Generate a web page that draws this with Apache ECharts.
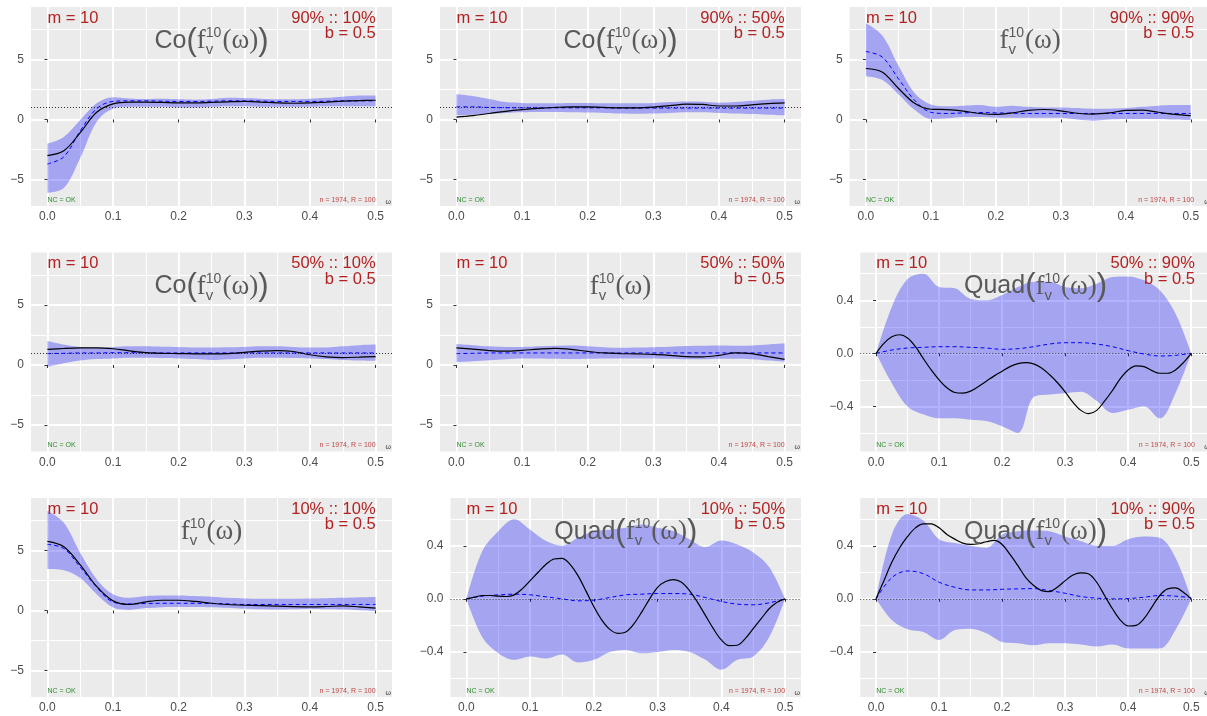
<!DOCTYPE html>
<html><head><meta charset="utf-8">
<script src="https://cdn.jsdelivr.net/npm/echarts@6/dist/echarts.min.js"></script>
<style>html,body{margin:0;padding:0;background:#fff}#c{width:1207px;height:716px}</style>
</head><body><div id="c"></div>
<script>
// ---------- data ----------
const X21 = [0,0.025,0.05,0.075,0.1,0.125,0.15,0.175,0.2,0.225,0.25,0.275,0.3,0.325,0.35,0.375,0.4,0.425,0.45,0.475,0.5];
const X41 = [0,0.0125,0.025,0.0375,0.05,0.0625,0.075,0.0875,0.1,0.1125,0.125,0.1375,0.15,0.1625,0.175,0.1875,0.2,0.2125,0.225,0.2375,0.25,0.2625,0.275,0.2875,0.3,0.3125,0.325,0.3375,0.35,0.3625,0.375,0.3875,0.4,0.4125,0.425,0.4375,0.45,0.4625,0.475,0.4875,0.5];

const xTickVals = [0,0.1,0.2,0.3,0.4,0.5];
const xMinorVals = [0.05,0.15,0.25,0.35,0.45];
const yTickLevel = [-5,0,5];
const yMinorLevel = [-2.5,2.5,7.5];
const yTickQuad = [-0.4,0,0.4];
const yMinorQuad = [-0.6,-0.2,0.2,0.6];

const panelKinds = ['Co','Co','f','Co','f','Quad','f','Quad','Quad'];
const panelLabels = ['90% :: 10%','90% :: 50%','90% :: 90%','50% :: 10%','50% :: 50%','50% :: 90%','10% :: 10%','10% :: 50%','10% :: 90%'];
const refLines = [1,1,null,1,null,0,null,0,0];

const p1Black = [-3.0,-2.6,-1.1,0.6,1.3,1.45,1.45,1.42,1.38,1.38,1.42,1.47,1.5,1.45,1.38,1.35,1.38,1.45,1.52,1.57,1.6];
const p1Blue  = [-3.7,-3.1,-0.95,0.9,1.5,1.55,1.55,1.52,1.5,1.5,1.52,1.55,1.55,1.53,1.5,1.5,1.5,1.52,1.55,1.55,1.55];
const p1Upper = [-2.0,-1.45,-0.05,1.35,1.85,1.75,1.7,1.72,1.68,1.65,1.7,1.8,1.78,1.72,1.68,1.68,1.72,1.8,1.9,2.0,2.0];
const p1Lower = [-6.1,-5.7,-3.2,-0.2,0.9,1.05,1.05,1.05,1.0,1.0,1.05,1.1,1.1,1.05,1.05,1.05,1.05,1.1,1.1,1.1,1.1];

const p2Black = [0.2,0.32,0.5,0.68,0.82,0.93,1.0,1.05,1.05,1.0,0.97,0.97,1.03,1.15,1.27,1.25,1.12,1.12,1.22,1.32,1.38];
const p2Blue  = [1.05,1.05,1.0,0.98,0.97,0.97,0.97,0.97,0.97,0.97,0.95,0.95,0.95,0.95,0.95,0.95,0.95,0.95,0.95,0.95,0.95];
const p2Upper = [2.1,1.95,1.7,1.45,1.38,1.35,1.35,1.38,1.38,1.35,1.35,1.35,1.38,1.45,1.5,1.48,1.4,1.45,1.55,1.65,1.7];
const p2Lower = [0.35,0.4,0.48,0.55,0.6,0.62,0.62,0.6,0.58,0.55,0.5,0.48,0.5,0.55,0.6,0.6,0.55,0.5,0.45,0.4,0.35];

const p3Black = [4.24,3.95,2.6,1.35,0.85,0.82,0.7,0.5,0.42,0.55,0.75,0.83,0.72,0.52,0.45,0.55,0.75,0.78,0.6,0.42,0.32];
const p3Blue  = [5.65,5.2,3.4,1.6,0.6,0.5,0.55,0.58,0.55,0.52,0.5,0.5,0.5,0.5,0.5,0.5,0.5,0.5,0.5,0.5,0.5];
const p3Upper = [8.0,7.0,4.5,2.2,1.25,1.1,1.15,1.2,1.05,1.15,1.05,1.0,1.0,0.95,0.9,0.9,0.95,1.05,1.15,1.2,1.2];
const p3Lower = [3.6,3.3,2.1,0.8,0.05,0.1,0.2,0.2,0.15,0.15,0.15,0.15,0.15,0.0,-0.1,0.0,0.05,0.05,0.05,0.0,-0.05];

const p4Black = [1.3,1.37,1.42,1.43,1.35,1.18,1.03,0.97,0.95,0.93,0.92,0.95,1.05,1.15,1.2,1.12,0.85,0.68,0.62,0.65,0.7];
const p4Blue  = [0.95,0.97,1.0,1.0,1.02,1.02,1.02,1.0,1.0,1.0,1.0,1.0,1.0,1.0,1.0,1.0,1.0,1.0,1.0,1.0,1.0];
const p4Upper = [2.0,1.7,1.5,1.45,1.5,1.55,1.55,1.52,1.5,1.45,1.45,1.48,1.5,1.55,1.55,1.5,1.45,1.45,1.55,1.65,1.7];
const p4Lower = [-0.15,0.15,0.38,0.5,0.55,0.6,0.6,0.58,0.55,0.5,0.42,0.48,0.55,0.6,0.6,0.58,0.55,0.5,0.42,0.38,0.35];

const p5Black = [1.43,1.32,1.2,1.15,1.22,1.32,1.38,1.3,1.13,1.0,0.95,0.92,0.88,0.8,0.7,0.68,0.8,1.0,0.95,0.7,0.47];
const p5Blue  = [0.95,0.97,1.0,1.0,1.0,1.0,1.0,1.0,1.0,1.0,1.0,1.0,1.0,1.0,1.0,1.0,1.0,1.0,1.0,1.0,1.0];
const p5Upper = [1.75,1.65,1.55,1.5,1.5,1.55,1.6,1.62,1.55,1.48,1.43,1.45,1.48,1.52,1.58,1.6,1.62,1.6,1.62,1.7,1.8];
const p5Lower = [0.25,0.32,0.4,0.48,0.55,0.55,0.52,0.5,0.52,0.55,0.55,0.55,0.55,0.52,0.48,0.48,0.52,0.52,0.48,0.38,0.28];

const p6Black = [0,0.075,0.125,0.14,0.115,0.05,-0.04,-0.125,-0.2,-0.26,-0.295,-0.3,-0.285,-0.25,-0.21,-0.17,-0.135,-0.1,-0.078,-0.07,-0.08,-0.11,-0.16,-0.22,-0.29,-0.37,-0.43,-0.455,-0.43,-0.36,-0.28,-0.19,-0.125,-0.095,-0.1,-0.13,-0.15,-0.15,-0.125,-0.07,0];
const p6Blue  = [0,0.025,0.04,0.045,0.05,0.05,0.045,0.04,0.03,0.035,0.05,0.07,0.08,0.08,0.07,0.05,0.02,-0.005,-0.02,-0.015,0];
const p6Upper = [0,0.35,0.56,0.6,0.5,0.49,0.41,0.4,0.44,0.5,0.54,0.54,0.5,0.49,0.525,0.575,0.58,0.55,0.475,0.3,0];
const p6Lower = [0,-0.225,-0.4,-0.46,-0.49,-0.49,-0.5,-0.51,-0.55,-0.6,-0.33,-0.31,-0.3,-0.29,-0.36,-0.45,-0.425,-0.4,-0.49,-0.3,0];

const p7Black = [5.75,5.3,3.8,2.0,0.8,0.5,0.72,0.85,0.85,0.75,0.6,0.5,0.44,0.4,0.36,0.32,0.3,0.33,0.38,0.3,0.2];
const p7Blue  = [5.5,5.15,3.6,1.95,0.7,0.55,0.58,0.6,0.6,0.6,0.58,0.55,0.5,0.5,0.5,0.5,0.5,0.5,0.5,0.5,0.5];
const p7Upper = [8.3,7.3,4.8,2.6,1.35,1.05,1.2,1.25,1.25,1.2,1.15,1.05,1.0,0.98,0.98,0.98,1.0,1.02,1.05,1.1,1.13];
const p7Lower = [3.45,3.35,2.7,1.35,0.25,0.05,0.2,0.28,0.3,0.3,0.28,0.22,0.15,0.1,0.08,0.1,0.12,0.1,0.08,0.02,-0.05];

const p8Black = [0,0.0125,0.025,0.025,0.02,0.0175,0.03,0.075,0.137,0.2,0.26,0.3,0.305,0.26,0.175,0.06,-0.06,-0.16,-0.23,-0.26,-0.25,-0.19,-0.1,0,0.087,0.13,0.145,0.125,0.062,-0.025,-0.125,-0.225,-0.31,-0.353,-0.35,-0.3,-0.225,-0.15,-0.075,-0.025,0];
const p8Blue  = [0,0.02,0.03,0.035,0.03,0.015,0.0,-0.015,-0.01,0.01,0.03,0.035,0.04,0.04,0.035,0.01,-0.02,-0.04,-0.045,-0.03,0];
const p8Upper = [0,0.36,0.51,0.6,0.52,0.435,0.4,0.46,0.51,0.52,0.535,0.56,0.535,0.51,0.45,0.39,0.44,0.41,0.35,0.24,0];
const p8Lower = [0,-0.29,-0.41,-0.46,-0.435,-0.45,-0.42,-0.48,-0.46,-0.4,-0.385,-0.41,-0.4,-0.385,-0.4,-0.46,-0.535,-0.46,-0.435,-0.29,0];

const p9Black = [0,0.137,0.275,0.385,0.47,0.535,0.565,0.565,0.535,0.485,0.45,0.42,0.41,0.415,0.43,0.44,0.41,0.335,0.25,0.16,0.1,0.062,0.055,0.087,0.137,0.18,0.195,0.187,0.125,0.025,-0.075,-0.16,-0.205,-0.2,-0.15,-0.062,0.025,0.075,0.082,0.05,0];
const p9Blue  = [0,0.16,0.21,0.19,0.125,0.087,0.067,0.067,0.072,0.075,0.077,0.062,0.042,0.017,0.005,0,0.002,0.012,0.025,0.02,0.008];
const p9Upper = [0,0.485,0.64,0.59,0.45,0.42,0.4,0.385,0.485,0.51,0.515,0.51,0.47,0.435,0.4,0.4,0.45,0.47,0.46,0.31,0];
const p9Lower = [0,-0.16,-0.23,-0.25,-0.31,-0.235,-0.225,-0.26,-0.325,-0.335,-0.35,-0.335,-0.335,-0.345,-0.36,-0.345,-0.375,-0.375,-0.375,-0.235,0];

const panelData = [
  {black:p1Black, blue:p1Blue, upper:p1Upper, lower:p1Lower},
  {black:p2Black, blue:p2Blue, upper:p2Upper, lower:p2Lower},
  {black:p3Black, blue:p3Blue, upper:p3Upper, lower:p3Lower},
  {black:p4Black, blue:p4Blue, upper:p4Upper, lower:p4Lower},
  {black:p5Black, blue:p5Blue, upper:p5Upper, lower:p5Lower},
  {black:p6Black, blue:p6Blue, upper:p6Upper, lower:p6Lower},
  {black:p7Black, blue:p7Blue, upper:p7Upper, lower:p7Lower},
  {black:p8Black, blue:p8Blue, upper:p8Upper, lower:p8Lower},
  {black:p9Black, blue:p9Blue, upper:p9Upper, lower:p9Lower}
];

// ---------- layout ----------
const SANS = '"Liberation Sans", Arial, Helvetica, sans-serif';
const SERIF = '"Liberation Serif", "Times New Roman", serif';
const rowTop = [7, 252.5, 498];
const PH = 199;
const colLeftLevel = [31, 440, 849.6];
const colLeftQuad = [41, 450.5, 860.3];
const WLevel = 361, WQuad = 350.5;
const XMIN = -0.025, XMAX = 0.525;

function zip(xs, ys){ return ys.map((y,i)=>[xs[i], y]); }
// y first, x second: lets the stack run along the y dimension
function zipYX(xs, ys){ return ys.map((y,i)=>[y, xs[i]]); }

const grids = [], xAxes = [], yAxes = [], series = [], graphics = [];

for (let i = 0; i < 9; i++) {
  const r = Math.floor(i/3), c = i % 3;
  const quad = panelKinds[i] === 'Quad';
  const left = quad ? colLeftQuad[c] : colLeftLevel[c];
  const W = quad ? WQuad : WLevel;
  const top = rowTop[r];
  grids.push({left: left, top: top, width: W, height: PH, show: true, backgroundColor: '#EBEBEB', borderWidth: 0, containLabel: false});

  const yMin = quad ? -0.74 : -7.19, yMax = quad ? 0.76 : 9.35;
  const yT = quad ? yTickQuad : yTickLevel, yM = quad ? yMinorQuad : yMinorLevel;

  xAxes.push({gridIndex: i, type: 'value', min: XMIN, max: XMAX, position: 'bottom',
    axisLine: {show: false},
    axisTick: {show: true, length: 3, lineStyle: {color: '#333333', width: 1}, customValues: xTickVals},
    axisLabel: {customValues: xTickVals, formatter: v => Math.abs(v).toFixed(1), color: '#4D4D4D', fontSize: 12, fontFamily: SANS, margin: 5},
    splitLine: {show: true, lineStyle: {color: '#FFFFFF', width: 2}}});
  xAxes.push({gridIndex: i, type: 'value', min: XMIN, max: XMAX, position: 'top',
    axisLine: {show: false},
    axisTick: {show: false, customValues: xMinorVals},
    axisLabel: {show: false, customValues: xMinorVals},
    splitLine: {show: true, lineStyle: {color: '#FFFFFF', width: 1}}});
  yAxes.push({gridIndex: i, type: 'value', min: yMin, max: yMax, position: 'left',
    axisLine: {show: false},
    axisTick: {show: true, length: 3, lineStyle: {color: '#333333', width: 1}, customValues: yT},
    axisLabel: {customValues: yT, formatter: v => quad ? ((v < 0 ? '\u2212' : '') + Math.abs(v).toFixed(1)) : ((v < 0 ? '\u2212' : '') + Math.abs(v)), color: '#4D4D4D', fontSize: 12, fontFamily: SANS, margin: 7},
    splitLine: {show: true, lineStyle: {color: '#FFFFFF', width: 2}}});
  yAxes.push({gridIndex: i, type: 'value', min: yMin, max: yMax, position: 'right',
    axisLine: {show: false},
    axisTick: {show: false, customValues: yM},
    axisLabel: {show: false, customValues: yM},
    splitLine: {show: true, lineStyle: {color: '#FFFFFF', width: 1}}});

  const d = panelData[i];
  const xi = 2*i, yi = 2*i;
  const diff = d.upper.map((u,k)=> +(u - d.lower[k]).toFixed(4));
  series.push({type: 'line', xAxisIndex: xi, yAxisIndex: yi, data: zipYX(X21, d.lower), encode: {x: 1, y: 0},
    stack: 'band' + i, stackStrategy: 'all',
    symbol: 'none', smooth: 0.35, lineStyle: {opacity: 0, width: 0}, silent: true, z: 2});
  series.push({type: 'line', xAxisIndex: xi, yAxisIndex: yi, data: zipYX(X21, diff), encode: {x: 1, y: 0},
    stack: 'band' + i, stackStrategy: 'all',
    symbol: 'none', smooth: 0.35, lineStyle: {opacity: 0, width: 0}, areaStyle: {color: 'rgba(0,0,255,0.3)', opacity: 1}, silent: true, z: 2});
  const blueSeries = {type: 'line', xAxisIndex: xi, yAxisIndex: yi, data: zip(X21, d.blue),
    symbol: 'none', smooth: 0.35, lineStyle: {color: '#0000FF', width: 1, type: [4, 3]}, silent: true, z: 4};
  if (refLines[i] !== null) {
    blueSeries.markLine = {silent: true, symbol: 'none', label: {show: false}, animation: false,
      lineStyle: {type: [1, 2], color: '#333333', width: 1}, data: [{yAxis: refLines[i]}], z: 3};
  }
  series.push(blueSeries);
  series.push({type: 'line', xAxisIndex: xi, yAxisIndex: yi, data: zip(d.black.length === 41 ? X41 : X21, d.black),
    symbol: 'none', smooth: 0.35, lineStyle: {color: '#000000', width: 1.2}, silent: true, z: 5});

  // annotations
  const px0 = left + W * (0 - XMIN) / (XMAX - XMIN);
  const px1 = left + W * (0.5 - XMIN) / (XMAX - XMIN);
  const cx = left + W / 2;
  const red = '#B22222';
  graphics.push({type: 'text', z: 100, x: px0, y: top + 11, style: {text: 'm = 10', fontSize: 16.5, fontFamily: SANS, fill: red, align: 'left', verticalAlign: 'middle'}});
  graphics.push({type: 'text', z: 100, x: px1, y: top + 11, style: {text: panelLabels[i], fontSize: 16.5, fontFamily: SANS, fill: red, align: 'right', verticalAlign: 'middle'}});
  graphics.push({type: 'text', z: 100, x: px1, y: top + 26.5, style: {text: 'b = 0.5', fontSize: 16.5, fontFamily: SANS, fill: red, align: 'right', verticalAlign: 'middle'}});
  graphics.push({type: 'text', z: 100, x: px0, y: top + PH - 6, style: {text: 'NC = OK', fontSize: 7, fontFamily: SANS, fill: '#2E8B2E', align: 'left', verticalAlign: 'middle'}});
  graphics.push({type: 'text', z: 100, x: px1, y: top + PH - 6, style: {text: 'n = 1974, R = 100', fontSize: 7, fontFamily: SANS, fill: '#C04646', align: 'right', verticalAlign: 'middle'}});
  graphics.push({type: 'text', z: 100, x: left + W - 1, y: top + PH - 4, style: {text: '\u03c9', fontSize: 7, fontFamily: SANS, fill: '#333333', align: 'right', verticalAlign: 'middle'}});

  const core = '{f|f}{sb|v}{sp|10}{w|(\u03c9)}';
  let rt;
  if (panelKinds[i] === 'Co') rt = '{a|Co}{p|(}' + core + '{p|)}';
  else if (panelKinds[i] === 'Quad') rt = '{a|Quad}{p|(}' + core + '{p|)}';
  else rt = core;
  const tc = '#595959';
  graphics.push({type: 'text', z: 100, x: cx, y: top + 34, style: {
    text: rt, align: 'center', verticalAlign: 'middle', fill: tc,
    rich: {
      a: {fontSize: 25, fontFamily: SANS, fill: tc, align: 'left'},
      p: {fontSize: 31, fontFamily: SANS, fill: tc, align: 'left'},
      f: {fontSize: 27, fontFamily: SERIF, fill: tc, align: 'left'},
      sb: {fontSize: 15, fontFamily: SANS, fill: tc, align: 'left', width: 0, padding: [18, 0, 0, 0]},
      sp: {fontSize: 14, fontFamily: SANS, fill: tc, align: 'left', padding: [0, 1, 15, 0]},
      w: {fontSize: 27, fontFamily: SERIF, fill: tc, align: 'left'}
    }}});
}

const chart = echarts.init(document.getElementById('c'), null, {renderer: 'canvas'});
chart.setOption({
  animation: false,
  backgroundColor: '#FFFFFF',
  grid: grids, xAxis: xAxes, yAxis: yAxes, series: series,
  graphic: {elements: graphics}
});
</script></body></html>
